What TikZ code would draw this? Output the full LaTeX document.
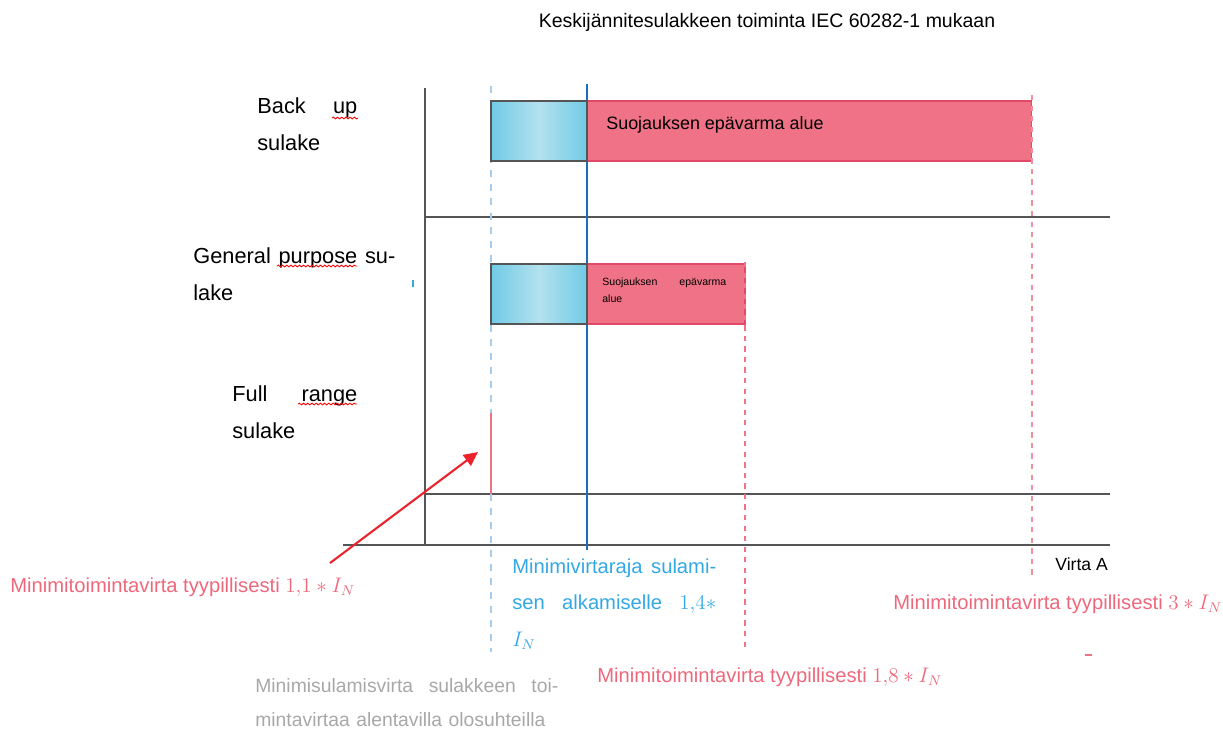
\documentclass[tikz,border=0pt]{standalone}
\usepackage{fontspec}
\setmainfont{Liberation Sans}
\definecolor{fsaxis}{RGB}{85,85,85}
\definecolor{fscyan}{RGB}{112,203,230}
\definecolor{fscyanlt}{RGB}{180,225,237}
\definecolor{fspink}{RGB}{240,114,134}
\definecolor{fspinkdk}{RGB}{226,72,104}
\definecolor{fsred}{RGB}{236,34,44}
\definecolor{fsredtxt}{RGB}{238,104,124}
\definecolor{fsblue}{RGB}{30,110,190}
\definecolor{fsbluetxt}{RGB}{52,168,228}
\definecolor{fsbluelt}{RGB}{165,205,238}
\definecolor{fsgray}{RGB}{168,168,168}
\usetikzlibrary{arrows.meta,positioning,decorations.pathmorphing}

\begin{document}
\begin{tikzpicture}[x=0.02cm, y=-0.02cm,
    axisline/.style={fsaxis, line width=1.1pt},
    cyanbar/.style={rectangle, draw=fsaxis, line width=0.9pt, left color=fscyan, right color=fscyan,
      middle color=fscyanlt, minimum width=1.92cm, minimum height=1.2cm, inner sep=0pt},
    pinkbar/.style={rectangle, draw=fspinkdk, line width=0.6pt, fill=fspink, minimum height=1.2cm, inner sep=0pt},
    fuselbl/.style={anchor=base west, align=left, inner sep=0pt, font=\fontsize{12.4}{21.5}\selectfont},
    notelbl/.style={anchor=base west, align=left, inner sep=0pt, font=\fontsize{11.5}{21}\selectfont},
    squiggle/.style={red, line width=0.5pt, decorate, decoration={snake, amplitude=0.5pt, segment length=2.4pt}},
    arr/.style={-{Triangle[length=8pt,width=7.5pt]}, fsred, line width=1.2pt}
  ]
    \useasboundingbox (0,0) rectangle (1223,728);

    \node[anchor=base, inner sep=0pt, font=\fontsize{11.1}{13}\selectfont] (title) at (767,27)
      {Keskijännitesulakkeen toiminta IEC 60282-1 mukaan};

    % axes and separators
    \coordinate (yTop) at (425,88);
    \coordinate (org)  at (425,545);
    \coordinate (xL)   at (343,545);
    \coordinate (xR)   at (1110,545);
    \coordinate (sepAL) at (425,217);
    \coordinate (sepAR) at (1110,217);
    \coordinate (sepBL) at (425,494);
    \coordinate (sepBR) at (1110,494);
    \draw[axisline] (yTop) -- (org);
    \draw[axisline] (xL) -- (xR);
    \draw[axisline] (sepAL) -- (sepAR);
    \draw[axisline] (sepBL) -- (sepBR);

    % guide lines
    \coordinate (g11t) at (491,86);
    \coordinate (g11b) at (491,652);
    \coordinate (g14t) at (587,84);
    \coordinate (g14b) at (587,550);
    \coordinate (g18t) at (745,262);
    \coordinate (g18b) at (745,652);
    \coordinate (g3t)  at (1032,95);
    \coordinate (g3b)  at (1032,578);
    \draw[fsbluelt, line width=1pt, dash pattern=on 4pt off 4pt] (g11t) -- (g11b);
    \draw[fsblue, line width=0.9pt] (g14t) -- (g14b);

    % bars
    \node[pinkbar, minimum width=8.9cm]  (buPink) at (809.5,131) {};
    \node[cyanbar]                       (buCyan) at (539,131) {};
    \node[pinkbar, minimum width=3.16cm] (gpPink) at (666,294) {};
    \node[cyanbar]                       (gpCyan) at (539,294) {};
    \node[anchor=base west, inner sep=0pt, font=\fontsize{10.2}{12}\selectfont] (buTxt) at (606,129)
      {Suojauksen epävarma alue};
    \node[anchor=base west, align=left, inner sep=0pt, text width=2.48cm,
      font=\fontsize{6}{10.2}\selectfont] (gpTxt) at (602,285)
      {Suojauksen \hfill epävarma\\alue};

    \draw[fspink, line width=1.3pt, dash pattern=on 3pt off 3pt] (g18t) -- (g18b);
    \draw[fspink!80, line width=0.8pt, dash pattern=on 3pt off 3pt] (g3t) -- (g3b);

    % full range
    \coordinate (frT) at (491,413);
    \coordinate (frB) at (491,494);
    \draw[fspink, line width=1.3pt] (frT) -- (frB);

    % fuse labels
    \node[fuselbl, text width=2cm]    (buLbl) at (257,113) {Back\hfill up\\sulake};
    \node[fuselbl, text width=4.04cm] (gpLbl) at (193,263) {General \hfill purpose \hfill su-\\lake};
    \node[fuselbl, text width=2.5cm]  (frLbl) at (232,401) {Full\hfill range\\sulake};
    \draw[squiggle] (332,118) -- (358,118);
    \draw[squiggle] (277,266) -- (357,266);
    \draw[squiggle] (298,404) -- (357,404);

    % current labels
    \node[notelbl, text=fsredtxt] (lbl11) at (10,592) {Minimitoimintavirta tyypillisesti $1{,}1 \ast I_N$};
    \node[notelbl, text=fsbluetxt, text width=4.08cm] (lbl14) at (512,573)
      {Minimivirtaraja \hfill sulami-\\sen \hfill alkamiselle \hfill $1{,}4 \ast$\\$I_N$};
    \node[notelbl, text=fsredtxt] (lbl3) at (893,609) {Minimitoimintavirta tyypillisesti $3 \ast I_N$};
    \node[notelbl, text=fsredtxt] (lbl18) at (597,682) {Minimitoimintavirta tyypillisesti $1{,}8 \ast I_N$};
    \node[notelbl, text=fsgray, text width=6.06cm, font=\fontsize{11}{19.5}\selectfont] (lblMin) at (255,692)
      {Minimisulamisvirta \hfill sulakkeen \hfill toi-\\\mbox{mintavirtaa alentavilla olosuhteilla}};
    \node[anchor=base west, inner sep=0pt, font=\fontsize{10}{12}\selectfont] (virta) at (1055,570) {Virta A};

    % arrow to full range line
    \coordinate (arrS) at (330,563);
    \coordinate (arrE) at (478,452);
    \draw[arr] (arrS) -- (arrE);

    % stray marks
    \draw[fsbluetxt, line width=0.6pt] (413,280) -- (413,287);
    \draw[fspink, line width=0.6pt] (1085,655) -- (1092,655);
  \end{tikzpicture}
\end{document}
